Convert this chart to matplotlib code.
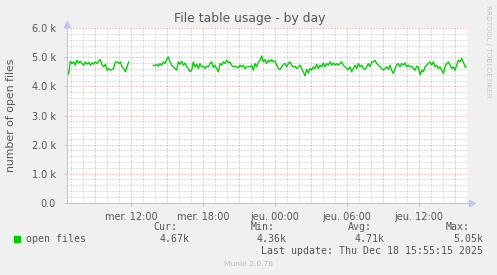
import numpy as np
import matplotlib
matplotlib.use("Agg")
import matplotlib.pyplot as plt

# hours since Wed 00:00, samples every ~8.3 min
step = 1 / 7.2
start1 = 6.6667
start2 = 13.861
files1 = [4559, 4422, 4868, 4788, 4845, 4731, 4902, 4811, 4868, 4788,
          4731, 4845, 4765, 4833, 4731, 4811, 4765, 4845, 4788, 4868,
          4925, 4731, 4674, 4765, 4559, 4616, 4559, 4582, 4616, 4845,
          4845, 4788, 4845, 4674, 4616, 4502, 4674, 4845]
files2 = [4731, 4708, 4765, 4696, 4788, 4731, 4845, 4788, 4925, 5016,
          4845, 4731, 4674, 4616, 4559, 4845, 4765, 4868, 4731, 4811,
          4674, 4616, 4502, 4559, 4845, 4674, 4765, 4616, 4788, 4674,
          4696, 4616, 4696, 4674, 4788, 4845, 4651, 4731, 4616, 4502,
          4788, 4731, 4845, 4788, 4902, 4811, 4845, 4731, 4674, 4696,
          4674, 4639, 4731, 4674, 4731, 4616, 4674, 4674, 4674,
          4731, 4559, 4788, 4674, 4845, 4902, 5050, 4845, 4925, 4788,
          4902, 4845, 4925, 4845, 4879, 4731, 4616, 4582, 4674, 4765,
          4788, 4674, 4788, 4845, 4731, 4674, 4696, 4616, 4674, 4731,
          4616, 4502, 4360, 4582, 4468, 4616, 4559, 4674, 4616, 4765,
          4616, 4731, 4674, 4811, 4674, 4788, 4731, 4845, 4731, 4811,
          4731, 4788, 4731, 4788, 4845, 4731, 4674, 4616, 4582, 4674,
          4502, 4616, 4731, 4616, 4788, 4674, 4731, 4616, 4582, 4674,
          4788, 4674, 4845, 4845, 4902, 4788, 4731, 4674, 4616, 4559,
          4616, 4674, 4582, 4731, 4559, 4445, 4616, 4731, 4788, 4674,
          4788, 4731, 4811, 4674, 4731, 4674, 4696, 4616, 4559, 4696,
          4674, 4400, 4559, 4502, 4674, 4731, 4788, 4845, 4731, 4845,
          4674, 4731, 4616, 4674, 4559, 4445, 4674, 4788, 4845, 4731,
          4616, 4674, 4559, 4731, 4902, 4845, 4959, 4845, 4674, 4670]
xlim = (6.6667, 40.0)
tick_hours = [12, 18, 24, 30, 36]
tick_labels = ["mer. 12:00", "mer. 18:00", "jeu. 00:00", "jeu. 06:00", "jeu. 12:00"]
yticks = [0, 1000, 2000, 3000, 4000, 5000, 6000]
ylabels = ["0.0", "1.0 k", "2.0 k", "3.0 k", "4.0 k", "5.0 k", "6.0 k"]
stat_names = ["Cur:", "Min:", "Avg:", "Max:"]
stat_values = ["4.67k", "4.36k", "4.71k", "5.05k"]

bg = "#F0F0F0"
txt = "#555555"
green = "#00CC00"
axcol = "#C0C4F0"
major = "#EE9090"
minor = "#BDBDBD"

fig = plt.figure(figsize=(4.97, 2.75), dpi=100, facecolor=bg)
ax = fig.add_axes([67 / 497, 1 - 202.7 / 275, 400 / 497, 174.4 / 275])
ax.set_facecolor("white")
for s in ax.spines.values():
    s.set_visible(False)

t1 = start1 + step * np.arange(len(files1))
t2 = start2 + step * np.arange(len(files2))
ax.plot(t1, files1, color=green, lw=0.95, zorder=5)
ax.plot(t2, files2, color=green, lw=0.95, zorder=5)

ax.set_xlim(*xlim)
ax.set_ylim(0, 6000)

# grid
for h in range(7, 40):
    c = major if h % 3 == 0 else minor
    ax.axvline(h, color=c, lw=0.72, ls=(0, (1, 2)), zorder=1)
for v in range(200, 6001, 200):
    c = major if v % 1000 == 0 else minor
    ax.axhline(v, color=c, lw=0.72, ls=(0, (1, 2)), zorder=1)

ax.set_xticks(tick_hours)
ax.set_xticklabels(tick_labels)
ax.set_yticks(yticks)
ax.set_yticklabels(ylabels)
ax.tick_params(axis="both", length=2, width=0.7, color=axcol, labelsize=7,
               labelcolor=txt, pad=5)
ax.tick_params(axis="y", pad=6)

# axes with arrows
ax.plot([0, 0], [0, 1.02], color=axcol, lw=0.8, transform=ax.transAxes, clip_on=False, zorder=6)
ax.plot([0, 1.012], [0, 0], color=axcol, lw=0.8, transform=ax.transAxes, clip_on=False, zorder=6)
ax.plot([0], [1.025], marker="^", ms=4, color=axcol, transform=ax.transAxes, clip_on=False, zorder=6)
ax.plot([1.0135], [0], marker=">", ms=4, color=axcol, transform=ax.transAxes, clip_on=False, zorder=6)

fig.text(249.5 / 497, 1 - 18.5 / 275, "File table usage - by day", ha="center", va="center",
         fontsize=8.9, color=txt)
fig.text(11.5 / 497, 1 - 115 / 275, "number of open files", rotation=90, ha="center",
         va="center", fontsize=7.8, color=txt)
fig.text(488 / 497, 1 - 5 / 275, "RRDTOOL / TOBI OETIKER", rotation=270, ha="center",
         va="top", fontsize=5.2, color="#C8C8C8")

mono = "DejaVu Sans Mono"
fs = 7.1
fig.patches.append(plt.Rectangle((14 / 497, 1 - 242 / 275), 6 / 497, 6 / 275,
                                 transform=fig.transFigure, color=green, figure=fig))
fig.text(26 / 497, 1 - 239.5 / 275, "open files", family=mono, fontsize=fs, color=txt,
         ha="left", va="center")
name_right = [177, 275, 372, 470]
val_right = [190, 287, 385, 483]
for n, v, xr, xv in zip(stat_names, stat_values, name_right, val_right):
    fig.text(xr / 497, 1 - 227.5 / 275, n, family=mono, fontsize=fs, color=txt,
             ha="right", va="center")
    fig.text(xv / 497, 1 - 239.5 / 275, v, family=mono, fontsize=fs, color=txt,
             ha="right", va="center")
fig.text(483 / 497, 1 - 251.5 / 275, "Last update: Thu Dec 18 15:55:15 2025", family=mono,
         fontsize=fs, color=txt, ha="right", va="center")
fig.text(248 / 497, 1 - 264.5 / 275, "Munin 2.0.76", fontsize=5.4, color="#BBBBBB",
         ha="center", va="center")

fig.savefig("out.png", dpi=100, facecolor=bg)
